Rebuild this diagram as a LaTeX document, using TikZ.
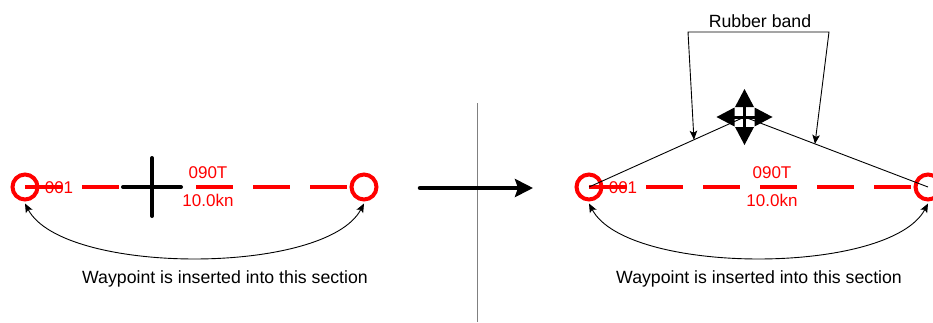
\documentclass[tikz,border=0pt]{standalone}
\usepackage{fontspec}
\setmainfont{Liberation Sans}
\usetikzlibrary{arrows.meta,calc}
\begin{document}
\begin{tikzpicture}[x=1pt,y=-1pt,
  wp/.style={circle,draw=red,line width=4pt,minimum size=25pt,inner sep=0pt},
  route/.style={red,line width=3.8pt,dash pattern=on 37pt off 20pt},
  redtxt/.style={text=red,font=\fontsize{17}{20}\selectfont,inner sep=0pt,anchor=base},
  blktxt/.style={font=\fontsize{17.7}{21}\selectfont,inner sep=0pt,anchor=base},
  thinline/.style={line width=0.9pt,black},
  dblarr/.style={{Stealth[length=9pt,width=7.5pt,inset=2pt]}-{Stealth[length=9pt,width=7.5pt,inset=2pt]}},
  crossbar/.style={line width=4pt,line cap=round,black},
  divider/.style={line width=1pt,black!50},
  bigarr/.style={line width=4.5pt,line cap=round,-{Stealth[length=18pt,width=18pt,inset=3pt]}},
  ]
\useasboundingbox (0,0) rectangle (933,322);

% ---------- left panel ----------
\coordinate (L1) at (25,187);
\coordinate (L2) at (364,187);
\draw[route] (L1) -- ($(L2)+(-12.5,0)$);
\node[wp] (L1w) at (L1) {};
\node[wp] (L2w) at (L2) {};
\coordinate (X) at (152,187);
\draw[crossbar] ($(X)+(-29,0)$) -- ($(X)+(29,0)$);
\draw[crossbar] ($(X)+(0,-29)$) -- ($(X)+(0,29)$);
\node[redtxt] (id1) at (59,193) {001};
\node[redtxt] (crs1) at (208,178) {090T};
\node[redtxt] (spd1) at (208,206) {10.0kn};
\draw[thinline,dblarr] ($(L1w.south)+(0,2)$) .. controls +(38,72) and +(-38,72) .. ($(L2w.south)+(0,2)$);
\node[blktxt] (cap1) at (225,283) {Waypoint is inserted into this section};

% ---------- divider and transition arrow ----------
\coordinate (dtop) at (477,103);
\coordinate (dbot) at (477,322);
\draw[divider] (dtop) -- (dbot);
\coordinate (as) at (420,188);
\coordinate (ae) at (533,188);
\draw[bigarr] (as) -- (ae);

% ---------- right panel ----------
\coordinate (R1) at (589,187);
\coordinate (R2) at (928,187);
\coordinate (M) at (744.5,117);
\draw[route] (R1) -- ($(R2)+(-12.5,0)$);
\node[wp] (R1w) at (R1) {};
\node[wp] (R2w) at (R2) {};
\node[redtxt] (id2) at (623,193) {001};
\node[redtxt] (crs2) at (772,178) {090T};
\node[redtxt] (spd2) at (772,206) {10.0kn};
\draw[thinline] (R1) -- (M) -- (R2);
% move icon
\foreach \a in {0,90,180,270}{
  \fill[black,rotate around={\a:(M)}] ($(M)+(28,0)$) -- ($(M)+(10,9.5)$) -- ($(M)+(10,-9.5)$) -- cycle;
}
\draw[line width=3pt] ($(M)+(-21,0)$) -- ($(M)+(21,0)$);
\draw[line width=3pt] ($(M)+(0,-21)$) -- ($(M)+(0,21)$);
\draw[thinline,dblarr] ($(R1w.south)+(0,2)$) .. controls +(38,72) and +(-38,72) .. ($(R2w.south)+(0,2)$);
\node[blktxt] (cap2) at (759,283) {Waypoint is inserted into this section};

% rubber band label
\node[blktxt] (rb) at (760,27) {Rubber band};
\coordinate (bl) at (688,32);
\coordinate (br) at (829,32);
\path (R1) -- (M) coordinate[pos=0.675] (t1);
\path (M) -- (R2) coordinate[pos=0.384] (t2);
\draw[thinline,dblarr] (t1) -- (bl) -- (br) -- (t2);
\end{tikzpicture}
\end{document}
